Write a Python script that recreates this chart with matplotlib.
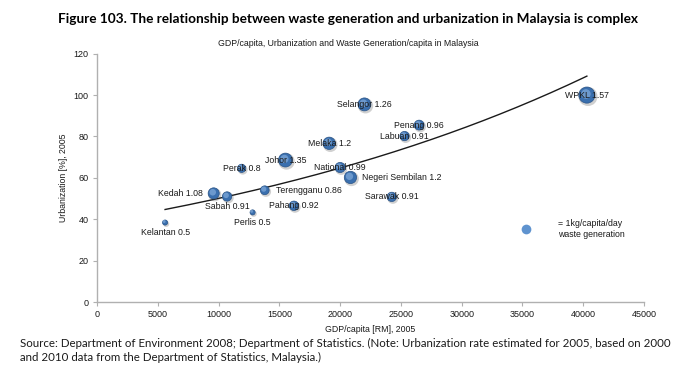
import numpy as np
import matplotlib
matplotlib.use("Agg")
import matplotlib.pyplot as plt
from matplotlib.transforms import offset_copy

# ---- data ----
states = ["Kelantan", "Kedah", "Sabah", "Perlis", "Terengganu", "Pahang", "Perak",
          "Johor", "Melaka", "National", "Negeri Sembilan", "Selangor", "Sarawak",
          "Labuan", "Penang", "WPKL"]
gdp = [5600, 9600, 10700, 12800, 13800, 16200, 11900,
       15500, 19100, 20000, 20850, 22000, 24250,
       25300, 26500, 40300]
urban = [38.4, 52.5, 51.0, 43.3, 54.0, 46.5, 64.6,
         68.6, 76.7, 65.0, 60.2, 95.5, 50.8,
         80.2, 85.5, 100.0]
waste = [0.5, 1.08, 0.91, 0.5, 0.86, 0.92, 0.8,
         1.35, 1.2, 0.99, 1.2, 1.26, 0.91,
         0.91, 0.96, 1.57]
# label placement: c=centered, l=left, r=right, b=below
placement = ["b", "l", "b", "b", "r", "c", "c",
             "c", "c", "c", "r", "c", "c",
             "c", "c", "c"]
legend_x, legend_y, legend_val = 35300, 35.2, 1.0

xticks = [0, 5000, 10000, 15000, 20000, 25000, 30000, 35000, 40000, 45000]
yticks = [0, 20, 40, 60, 80, 100, 120]

plt.rcParams['font.family'] = ['Liberation Sans', 'DejaVu Sans']

fig = plt.figure(figsize=(6.9, 3.77), dpi=100)
ax = fig.add_axes([97/690, 1-302/377, 547/690, (302-53.7)/377])

x = np.array(gdp, float)
y = np.array(urban, float)
w = np.array(waste, float)
sizes = (7.4 * w) ** 2

# trendline (exponential fit)
b, loga = np.polyfit(x, np.log(y), 1)
xs = np.linspace(x.min(), x.max(), 200)
ax.plot(xs, np.exp(loga) * np.exp(b * xs), color="#1a1a1a", lw=1.0, zorder=2)

# shadow
sh = offset_copy(ax.transData, fig=fig, x=0.8, y=-1.0, units='points')
ax.scatter(x, y, s=sizes * 1.4, color="#444444", alpha=0.25, lw=0, transform=sh, zorder=3)
# main bubble
ax.scatter(x, y, s=sizes, color="#3a6fae", edgecolor="#2a5487", lw=0.5, zorder=4)
# highlight
hl = offset_copy(ax.transData, fig=fig, x=-0.7, y=0.8, units='points')
ax.scatter(x, y, s=sizes * 0.35, color="#8fb6e3", alpha=0.6, lw=0, transform=hl, zorder=5)

# legend bubble
ax.scatter([legend_x], [legend_y], s=(7.0 * legend_val) ** 2, color="#5f93cf", lw=0, zorder=4)
ax.text(legend_x + 2600, legend_y, "= 1kg/capita/day\nwaste generation", fontsize=6.3,
        va="center", ha="left", color="#1a1a1a", linespacing=1.2)

fs = 6.3
for s_, xi, yi, wi, p in zip(states, x, y, w, placement):
    lab = f"{s_} {wi:g}"
    if p == "c":
        ax.text(xi, yi, lab, ha="center", va="center", fontsize=fs, color="#1a1a1a", zorder=6)
    elif p == "l":
        ax.annotate(lab, (xi, yi), xytext=(-8, 0), textcoords="offset points",
                    ha="right", va="center", fontsize=fs, color="#1a1a1a", zorder=6)
    elif p == "r":
        ax.annotate(lab, (xi, yi), xytext=(8, 0), textcoords="offset points",
                    ha="left", va="center", fontsize=fs, color="#1a1a1a", zorder=6)
    elif p == "b":
        ax.annotate(lab, (xi, yi), xytext=(0, -7), textcoords="offset points",
                    ha="center", va="center", fontsize=fs, color="#1a1a1a", zorder=6)

ax.set_xlim(0, 45000)
ax.set_ylim(0, 120)
ax.set_xticks(xticks)
ax.set_yticks(yticks)
ax.set_xticklabels([str(t) for t in xticks])
ax.set_yticklabels([str(t) for t in yticks])
ax.tick_params(labelsize=6.5, length=3, width=0.8, color="#b0b0b0", pad=3, labelcolor="#1a1a1a")
for sp in ["top", "right"]:
    ax.spines[sp].set_visible(False)
for sp in ["left", "bottom"]:
    ax.spines[sp].set_color("#b0b0b0")
    ax.spines[sp].set_linewidth(1.0)

ax.set_xlabel("GDP/capita [RM], 2005", fontsize=6.3, labelpad=4, color="#1a1a1a")
ax.set_ylabel("Urbanization [%], 2005", fontsize=6.3, labelpad=4, color="#1a1a1a")

fig.text(0.505, 1-19/377, "Figure 103. The relationship between waste generation and urbanization in Malaysia is complex",
         ha="center", va="center", fontsize=9.8, fontweight="bold", family=["Lato", "DejaVu Sans"])
fig.text(0.505, 1-44/377, "GDP/capita, Urbanization and Waste Generation/capita in Malaysia",
         ha="center", va="center", fontsize=6.3, color="#1a1a1a")
fig.text(20/690, 1-338/377,
         "Source: Department of Environment 2008; Department of Statistics. (Note: Urbanization rate estimated for 2005, based on 2000\nand 2010 data from the Department of Statistics, Malaysia.)",
         ha="left", va="top", fontsize=8.3, color="#1a1a1a", linespacing=1.3, family=["Lato", "DejaVu Sans"])

fig.savefig("out.png", dpi=100)
